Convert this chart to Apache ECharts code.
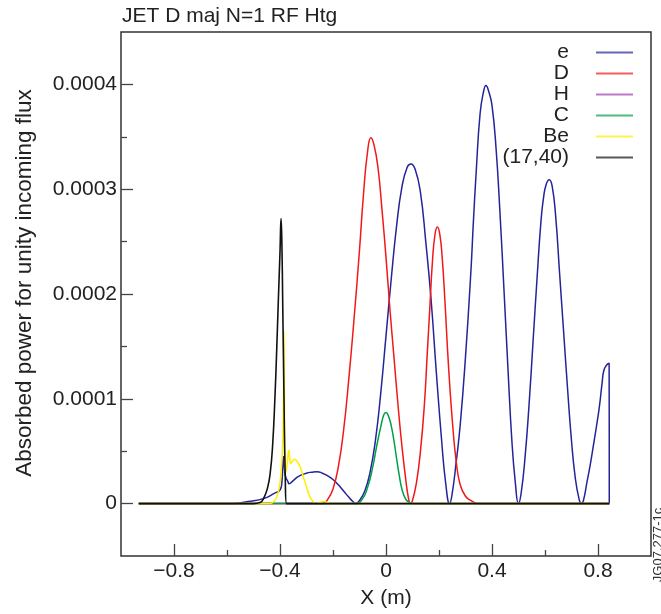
<!DOCTYPE html>
<html>
<head>
<meta charset="utf-8">
<script src="https://cdn.jsdelivr.net/npm/echarts@6/dist/echarts.min.js"></script>
<style>
html,body{margin:0;padding:0;background:#fff;}
#chart{width:661px;height:614px;}
</style>
</head>
<body>
<div id="chart"></div>
<script>
// ---- data (x in m, absorbed power) ----
const seriesNames = ['e', 'D', 'H', 'C', 'Be', '(17,40)'];

const eData = [
  [-0.933, 0], [-0.58, 0], [-0.52, 0.02e-4], [-0.46, 0.05e-4], [-0.42, 0.1e-4], [-0.40, 0.13e-4],
  [-0.393, 0.2e-4], [-0.387, 0.45e-4], [-0.383, 0.33e-4], [-0.378, 0.25e-4], [-0.37, 0.21e-4],
  [-0.366, 0.19e-4], [-0.35, 0.22e-4], [-0.33, 0.26e-4], [-0.30, 0.29e-4], [-0.28, 0.30e-4],
  [-0.26, 0.305e-4], [-0.24, 0.29e-4], [-0.22, 0.265e-4], [-0.20, 0.23e-4], [-0.18, 0.18e-4],
  [-0.16, 0.12e-4], [-0.14, 0.06e-4], [-0.125, 0.02e-4], [-0.115, 0],
  [-0.10, 0.03e-4], [-0.08, 0.12e-4], [-0.06, 0.3e-4], [-0.04, 0.6e-4], [-0.02, 1.05e-4],
  [0.0, 1.6e-4], [0.02, 2.15e-4], [0.04, 2.65e-4], [0.06, 3.02e-4], [0.08, 3.21e-4],
  [0.094, 3.24e-4], [0.11, 3.19e-4], [0.13, 2.97e-4], [0.15, 2.5e-4], [0.17, 1.95e-4],
  [0.19, 1.25e-4], [0.21, 0.6e-4], [0.225, 0.2e-4], [0.24, 0],
  [0.25, 0.1e-4], [0.265, 0.4e-4], [0.28, 0.75e-4], [0.30, 1.4e-4], [0.32, 2.2e-4],
  [0.33, 2.7e-4], [0.34, 3.15e-4], [0.355, 3.72e-4], [0.368, 3.93e-4], [0.377, 3.99e-4],
  [0.388, 3.93e-4], [0.40, 3.8e-4], [0.415, 3.4e-4], [0.43, 2.78e-4], [0.445, 2.05e-4],
  [0.46, 1.3e-4], [0.475, 0.6e-4], [0.488, 0.2e-4], [0.50, 0],
  [0.51, 0.1e-4], [0.525, 0.45e-4], [0.54, 0.95e-4], [0.555, 1.55e-4], [0.57, 2.15e-4],
  [0.585, 2.7e-4], [0.595, 2.93e-4], [0.605, 3.05e-4], [0.616, 3.09e-4], [0.627, 3.03e-4],
  [0.64, 2.75e-4], [0.655, 2.2e-4], [0.67, 1.65e-4], [0.685, 1.1e-4], [0.70, 0.6e-4],
  [0.714, 0.25e-4], [0.728, 0.05e-4], [0.737, 0],
  [0.745, 0.03e-4], [0.758, 0.2e-4], [0.77, 0.36e-4], [0.783, 0.56e-4], [0.795, 0.75e-4],
  [0.805, 0.92e-4], [0.815, 1.14e-4], [0.822, 1.27e-4], [0.832, 1.32e-4], [0.842, 1.34e-4],
  [0.8425, 0]
];

const dData = [
  [-0.933, 0], [-0.24, 0], [-0.22, 0.04e-4], [-0.20, 0.14e-4], [-0.18, 0.35e-4], [-0.16, 0.7e-4],
  [-0.14, 1.2e-4], [-0.12, 1.78e-4], [-0.10, 2.42e-4], [-0.085, 2.95e-4], [-0.07, 3.35e-4],
  [-0.057, 3.49e-4], [-0.045, 3.42e-4], [-0.03, 3.2e-4], [-0.015, 2.8e-4], [0.0, 2.35e-4],
  [0.015, 1.85e-4], [0.03, 1.4e-4], [0.045, 0.95e-4], [0.06, 0.55e-4], [0.075, 0.22e-4],
  [0.085, 0.05e-4], [0.092, 0],
  [0.10, 0.03e-4], [0.115, 0.2e-4], [0.13, 0.5e-4], [0.145, 0.95e-4], [0.155, 1.4e-4],
  [0.165, 1.85e-4], [0.175, 2.3e-4], [0.185, 2.57e-4], [0.194, 2.64e-4], [0.203, 2.57e-4],
  [0.212, 2.35e-4], [0.222, 1.95e-4], [0.235, 1.35e-4], [0.25, 0.8e-4], [0.265, 0.4e-4],
  [0.28, 0.18e-4], [0.30, 0.07e-4], [0.32, 0.03e-4], [0.35, 0], [0.843, 0]
];

const hData = [[-0.933, 0], [0.843, 0]];

const cData = [
  [-0.933, 0], [-0.115, 0], [-0.09, 0.04e-4], [-0.07, 0.15e-4], [-0.05, 0.35e-4], [-0.035, 0.55e-4],
  [-0.02, 0.73e-4], [-0.008, 0.85e-4], [0.0, 0.87e-4], [0.01, 0.83e-4], [0.02, 0.74e-4],
  [0.03, 0.6e-4], [0.04, 0.43e-4], [0.05, 0.27e-4], [0.06, 0.14e-4], [0.075, 0.04e-4],
  [0.09, 0.01e-4], [0.105, 0], [0.843, 0]
];

const beData = [
  [-0.933, 0], [-0.48, 0], [-0.44, 0], [-0.42, 0.03e-4], [-0.41, 0.08e-4], [-0.403, 0.15e-4],
  [-0.396, 0.3e-4], [-0.39, 0.55e-4], [-0.387, 1.0e-4], [-0.385, 1.65e-4], [-0.383, 0.9e-4],
  [-0.381, 0.35e-4], [-0.378, 0.3e-4], [-0.372, 0.4e-4], [-0.367, 0.51e-4], [-0.363, 0.42e-4],
  [-0.36, 0.38e-4], [-0.352, 0.41e-4], [-0.345, 0.42e-4], [-0.335, 0.4e-4], [-0.324, 0.35e-4],
  [-0.315, 0.28e-4], [-0.305, 0.2e-4], [-0.295, 0.12e-4], [-0.286, 0.06e-4], [-0.275, 0.02e-4],
  [-0.265, 0], [-0.25, 0.01e-4], [-0.235, 0.02e-4], [-0.22, 0.01e-4], [-0.21, 0], [0.843, 0]
];

const k1740Data = [
  [-0.933, 0], [-0.50, 0], [-0.475, 0.01e-4], [-0.46, 0.06e-4], [-0.447, 0.15e-4], [-0.437, 0.29e-4],
  [-0.428, 0.55e-4], [-0.419, 1.02e-4], [-0.412, 1.5e-4], [-0.406, 1.96e-4], [-0.400, 2.4e-4],
  [-0.396, 2.72e-4], [-0.393, 2.5e-4], [-0.39, 1.96e-4], [-0.385, 1.02e-4], [-0.38, 0.23e-4],
  [-0.375, 0], [0.843, 0]
];

const xTicks = [-0.8, -0.4, 0, 0.4, 0.8];
const xMinorTicks = [-0.6, -0.2, 0.2, 0.6];
const yTicks = [0, 0.0001, 0.0002, 0.0003, 0.0004];
const yMinorTicks = [0.00005, 0.00015, 0.00025, 0.00035];

const colors = ['#24249a', '#f01818', '#a040b0', '#00a048', '#ffee00', '#111111'];
const allData = [eData, dData, hData, cData, beData, k1740Data];

const FONT = '"Liberation Sans", Arial, Helvetica, sans-serif';
const chart = echarts.init(document.getElementById('chart'), null, {renderer: 'canvas'});

function minusFmt(v) {
  return String(v).replace('-', '\u2212');
}

const tickStyle = {color: '#444', width: 1.3};

const option = {
  animation: false,
  backgroundColor: '#fff',
  color: colors,
  title: {
    text: 'JET D maj N=1 RF Htg',
    left: 122, top: 6, padding: 0,
    textStyle: {fontFamily: FONT, fontSize: 21, fontWeight: 'normal', color: '#222'}
  },
  legend: {
    orient: 'vertical', right: 28, top: 42, padding: 0,
    align: 'right', icon: 'rect', itemWidth: 37, itemHeight: 2, itemGap: 0,
    itemStyle: {opacity: 0.7},
    data: seriesNames,
    textStyle: {fontFamily: FONT, fontSize: 21, color: '#222', lineHeight: 20, padding: [0, 22, 0, 0]}
  },
  grid: {left: 121, top: 32, width: 530, height: 528, show: true, borderColor: '#333', borderWidth: 1.5, containLabel: false},
  xAxis: [{
    type: 'value', min: -1, max: 1, position: 'bottom',
    axisLine: {show: false, onZero: false},
    splitLine: {show: false},
    axisTick: {show: true, inside: true, length: 12, customValues: xTicks, lineStyle: tickStyle},
    axisLabel: {customValues: xTicks, formatter: minusFmt, fontFamily: FONT, fontSize: 21, color: '#222', margin: 5},
    name: 'X (m)', nameLocation: 'middle', nameGap: 32,
    nameTextStyle: {fontFamily: FONT, fontSize: 21, color: '#222'}
  }, {
    type: 'value', min: -1, max: 1, position: 'bottom',
    axisLine: {show: false, onZero: false}, splitLine: {show: false},
    axisTick: {show: true, inside: true, length: 6, customValues: xMinorTicks, lineStyle: tickStyle},
    axisLabel: {show: false}
  }],
  yAxis: [{
    type: 'value', min: -0.00005, max: 0.00045, position: 'left',
    axisLine: {show: false, onZero: false}, splitLine: {show: false},
    axisTick: {show: true, inside: true, length: 12, customValues: yTicks, lineStyle: tickStyle},
    axisLabel: {customValues: yTicks, fontFamily: FONT, fontSize: 21, color: '#222', margin: 4,
      formatter: function (v) { return v === 0 ? '0' : v.toFixed(4); }}
  }, {
    type: 'value', min: -0.00005, max: 0.00045, position: 'left', offset: 0,
    axisLine: {show: false, onZero: false}, splitLine: {show: false},
    axisTick: {show: true, inside: true, length: 6, customValues: yMinorTicks, lineStyle: tickStyle},
    axisLabel: {show: false}
  }],
  graphic: [{
    type: 'text', x: 25, y: 283, rotation: Math.PI / 2,
    style: {text: 'Absorbed power for unity incoming flux', font: '22.5px ' + FONT, fill: '#222', align: 'center', verticalAlign: 'middle'}
  }, {
    type: 'text', x: 658, y: 545, rotation: Math.PI / 2,
    style: {text: 'JG07.277-1c', font: '13px ' + FONT, fill: '#333', align: 'center', verticalAlign: 'middle'}
  }],
  series: seriesNames.map(function (name, i) {
    return {
      name: name, type: 'line', xAxisIndex: 0, yAxisIndex: 0,
      data: allData[i], showSymbol: false, symbol: 'none',
      smooth: 0.5,
      lineStyle: {width: i === 5 ? 1.6 : 1.5, color: colors[i]},
      itemStyle: {color: colors[i]},
      emphasis: {disabled: true}
    };
  })
};
chart.setOption(option);
</script>
</body>
</html>
